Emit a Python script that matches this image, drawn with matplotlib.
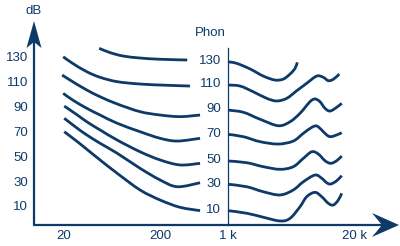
import matplotlib
matplotlib.use("Agg")
import numpy as np
import matplotlib.pyplot as plt
from matplotlib.patches import Polygon, PathPatch
from matplotlib.path import Path

plt.rcParams['font.family'] = ['Liberation Sans', 'DejaVu Sans']

# ---- data (frequency in Hz, level in dB) ----
phon_levels = [130, 110, 90, 70, 50, 30, 10]

left_f = {
    130: [47, 61, 83, 124, 200, 380],
    110: [20, 25, 35, 48, 72, 124, 235, 405],
    90:  [19.5, 25, 35, 48, 72, 124, 200, 320, 515],
    70:  [20, 25, 35, 48, 72, 124, 200, 300, 515],
    50:  [20.5, 28, 35, 48, 72, 124, 200, 320, 515],
    30:  [20.5, 28, 35, 48, 72, 124, 200, 300, 515],
    10:  [20.5, 28, 35, 48, 72, 124, 200, 320, 515],
}
left_db = {
    130: [137.8, 134.3, 131.6, 130.0, 129.0, 128.4],
    110: [131.0, 125.7, 119.0, 114.5, 111.0, 109.1, 108.1, 107.5],
    90:  [116.3, 111.0, 104.3, 98.9, 93.1, 86.9, 84.2, 82.9, 84.2],
    70:  [101.6, 96.3, 89.6, 84.2, 77.6, 70.8, 65.5, 63.3, 65.5],
    50:  [91.4, 84.2, 78.8, 72.2, 64.1, 54.7, 48.1, 44.1, 45.4],
    30:  [81.6, 73.5, 68.2, 61.5, 53.5, 41.4, 32.0, 26.6, 29.8],
    10:  [70.8, 62.8, 56.7, 48.1, 37.4, 24.0, 15.9, 10.1, 7.4],
}
right_f = {
    130: [1000, 1230, 1690, 2310, 3050, 3720, 4360, 4910, 5180],
    110: [1000, 1330, 1820, 2510, 3180, 4030, 5110, 6480, 8210, 9600, 10810, 12180, 14040],
    90:  [1000, 1440, 2140, 3300, 4360, 5530, 7000, 7890, 8880, 10000, 11260, 13200, 14870],
    70:  [1000, 1440, 2140, 3300, 4710, 5980, 7300, 8210, 9250, 10410, 11450, 13200, 14870],
    50:  [1000, 1560, 2310, 3440, 4710, 5980, 7300, 8530, 10000, 11450, 13200, 14870],
    30:  [1000, 1560, 2310, 3440, 4710, 5980, 7890, 9250, 10410, 11450, 13200, 14870],
    10:  [1000, 1560, 2310, 3440, 4360, 5530, 6480, 7890, 9250, 10810, 12180, 13710, 14870],
}
right_db = {
    130: [127.0, 125.7, 121.2, 115.5, 112.3, 113.1, 117.1, 121.7, 126.5],
    110: [108.3, 107.5, 102.9, 97.6, 95.5, 97.6, 103.7, 109.7, 115.5, 114.5, 111.8, 112.9, 117.1],
    90:  [88.2, 86.4, 80.8, 75.6, 78.8, 85.6, 94.9, 97.1, 94.9, 89.6, 87.4, 90.4, 93.6],
    70:  [68.7, 66.8, 62.8, 60.9, 63.3, 69.5, 74.3, 75.4, 72.2, 68.2, 66.8, 68.2, 70.0],
    50:  [47.3, 45.9, 42.7, 40.6, 42.7, 49.4, 54.7, 52.9, 47.5, 45.4, 47.5, 51.3],
    30:  [28.6, 26.6, 22.6, 20.0, 24.0, 30.6, 36.0, 33.4, 29.8, 28.8, 31.4, 35.5],
    10:  [7.4, 5.3, 2.1, -0.9, 1.2, 10.6, 18.6, 22.1, 18.6, 13.3, 11.9, 15.9, 21.3],
}

x_ticks = [20, 200, 1000, 20000]
x_ticklabels = ['20', '200', '1 k', '20 k']
y_ticks = [10, 30, 50, 70, 90, 110, 130]

# ---- style ----
NAVY = '#0d3a68'
FS = 9.5
LW = 2.0


def smooth_path(freqs, levels):
    """Catmull-Rom curve through the points, as cubic Bezier segments in
    (log10 f, dB) space; the axes' log scale maps it back to the plot."""
    x = np.log10(np.asarray(freqs, float))
    y = np.asarray(levels, float)
    P = np.column_stack([x, y])
    Q = np.vstack([P[0], P, P[-1]])
    verts = [P[0]]
    codes = [Path.MOVETO]
    for i in range(1, len(Q) - 2):
        p0, p1, p2, p3 = Q[i - 1], Q[i], Q[i + 1], Q[i + 2]
        c1 = p1 + (p2 - p0) / 6.0
        c2 = p2 - (p3 - p1) / 6.0
        verts += [c1, c2, p2]
        codes += [Path.CURVE4] * 3
    verts = np.array(verts)
    verts[:, 0] = 10 ** verts[:, 0]
    return Path(verts, codes)


fig = plt.figure(figsize=(4.0, 2.46), dpi=100)
ax = fig.add_axes([0, 0, 1, 1])
ax.set_xscale('log')
ax.set_xlim(4.46, 59330)
ax.set_ylim(-21.0, 176.6)
ax.axis('off')

for p in phon_levels:
    for fs, ls in ((left_f[p], left_db[p]), (right_f[p], right_db[p])):
        ax.add_patch(PathPatch(smooth_path(fs, ls), fill=False, edgecolor=NAVY,
                               lw=LW, capstyle='butt', joinstyle='round'))
    ax.text(850, right_db[p][0] + 0.5, str(p), ha='right', va='center',
            fontsize=FS, color=NAVY)

# 1 kHz reference line
ax.plot([1000, 1000], [-4.1, 138], color=NAVY, lw=0.9)

# tick labels
for xv, lab in zip(x_ticks, x_ticklabels):
    ax.text(xv, -12.8, lab, ha='center', va='center', fontsize=FS, color=NAVY)
for yv in y_ticks:
    ax.text(8.67, yv, str(yv), ha='right', va='center', fontsize=FS, color=NAVY)

ax.text(10, 168, 'dB', ha='center', va='center', fontsize=FS, color=NAVY)
ax.text(652, 150, 'Phon', ha='center', va='center', fontsize=FS, color=NAVY)

# decoration overlay in pixel coordinates (axis arrows)
deco = fig.add_axes([0, 0, 1, 1])
deco.set_xlim(0, 400)
deco.set_ylim(246, 0)
deco.axis('off')
deco.patch.set_alpha(0)
deco.plot([34, 34], [225, 40], color=NAVY, lw=1.6, solid_capstyle='butt')
deco.plot([33, 384], [224.5, 224.5], color=NAVY, lw=1.6, solid_capstyle='butt')
deco.add_patch(Polygon([(34, 21), (26.5, 48), (34, 42), (41.5, 48)],
                       closed=True, color=NAVY, lw=0))
deco.add_patch(Polygon([(399, 225), (372, 213), (382, 225), (372, 237)],
                       closed=True, color=NAVY, lw=0))

fig.savefig('out.png', dpi=100)
